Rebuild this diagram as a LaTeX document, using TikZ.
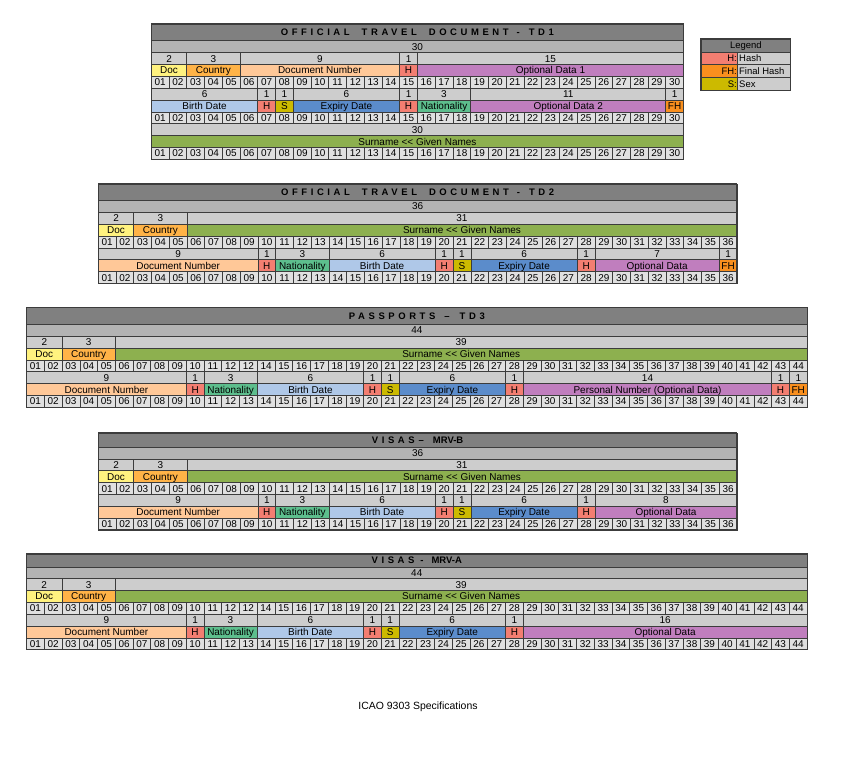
\documentclass[tikz,border=0pt]{standalone}
\usepackage{fontspec}
\setmainfont{Liberation Sans}
% field colours
\definecolor{titlegray}{HTML}{808080}
\definecolor{totalgray}{HTML}{B3B3B3}
\definecolor{countgray}{HTML}{CDCDCD}
\definecolor{numgray}{HTML}{E0E0E0}
\definecolor{gridline}{HTML}{3C3C3C}
\definecolor{doccol}{HTML}{FFF27F}
\definecolor{countrycol}{HTML}{FFB347}
\definecolor{docnumcol}{HTML}{FFC898}
\definecolor{hcol}{HTML}{F37E71}
\definecolor{optcol}{HTML}{C07EBE}
\definecolor{birthcol}{HTML}{AFC8E8}
\definecolor{scol}{HTML}{CCBA00}
\definecolor{expcol}{HTML}{5B8CCB}
\definecolor{natcol}{HTML}{5DBE8D}
\definecolor{fhcol}{HTML}{F98F1E}
\definecolor{namecol}{HTML}{8DB04F}
% geometry of one character cell
\def\mzcw{17.74}
\def\mzrh{11.85}
% current table: left, top, title height, number of columns
\newcommand\mrztable[4]{\def\mzx{#1}\def\mzy{#2}\def\mzh{#3}\def\mzn{#4}}
\newcommand\trk[1]{{\addfontfeature{LetterSpace=38}#1}}
\newcommand\mrztitle[2]{%
  \pgfmathsetmacro\xb{\mzx+\mzn*\mzcw}%
  \pgfmathsetmacro\yb{\mzy+\mzh}%
  \path[cellbox, fill=titlegray] (\mzx,\mzy) rectangle (\xb,\yb);
  \node[titletext] (#1) at ({(\mzx+\xb)/2},{(\mzy+\yb)/2}) {#2};}
% row, first column, last column, fill, text
\newcommand\mrzcell[5]{%
  \pgfmathsetmacro\xa{\mzx+(#2-1)*\mzcw}%
  \pgfmathsetmacro\xb{\mzx+#3*\mzcw}%
  \pgfmathsetmacro\ya{\mzy+\mzh+(#1-1)*\mzrh}%
  \pgfmathsetmacro\yb{\ya+\mzrh}%
  \path[cellbox, fill=#4] (\xa,\ya) rectangle (\xb,\yb);
  \node[celltext] at ({(\xa+\xb)/2},{(\ya+\yb)/2}) {#5};}
% row of character positions; second argument 1 repeats "12" at position 13
\newcommand\mrznums[2]{%
  \foreach \i in {1,...,\mzn}{%
    \pgfmathtruncatemacro\lab{((#2==1)&&(\i==13))?12:\i}%
    \mrzcell{#1}{\i}{\i}{numgray}{\ifnum\lab<10 0\fi\lab}}}
\newcommand\mrzframe[1]{%
  \pgfmathsetmacro\xb{\mzx+\mzn*\mzcw}%
  \pgfmathsetmacro\yb{\mzy+\mzh+#1*\mzrh}%
  \draw[frame] (\mzx,\mzy) rectangle (\xb,\yb);}
% second line of TD2 / TD3 / visas up to position 28
\newcommand\mrzlinetwo{%
  \mrzcell{5}{1}{9}{countgray}{9}
  \mrzcell{5}{10}{10}{countgray}{1}
  \mrzcell{5}{11}{13}{countgray}{3}
  \mrzcell{5}{14}{19}{countgray}{6}
  \mrzcell{5}{20}{20}{countgray}{1}
  \mrzcell{5}{21}{21}{countgray}{1}
  \mrzcell{5}{22}{27}{countgray}{6}
  \mrzcell{5}{28}{28}{countgray}{1}
  \mrzcell{6}{1}{9}{docnumcol}{Document Number}
  \mrzcell{6}{10}{10}{hcol}{H}
  \mrzcell{6}{11}{13}{natcol}{Nationality}
  \mrzcell{6}{14}{19}{birthcol}{Birth Date}
  \mrzcell{6}{20}{20}{hcol}{H}
  \mrzcell{6}{21}{21}{scol}{S}
  \mrzcell{6}{22}{27}{expcol}{Expiry Date}
  \mrzcell{6}{28}{28}{hcol}{H}}
% first line of TD2 / TD3 / visas
\newcommand\mrzlineone[2]{%
  \mrzcell{1}{1}{\mzn}{totalgray}{\mzn}
  \mrzcell{2}{1}{2}{countgray}{2}
  \mrzcell{2}{3}{5}{countgray}{3}
  \mrzcell{2}{6}{\mzn}{countgray}{#1}
  \mrzcell{3}{1}{2}{doccol}{Doc}
  \mrzcell{3}{3}{5}{countrycol}{Country}
  \mrzcell{3}{6}{\mzn}{namecol}{Surname <\kern0pt< Given Names}
  \mrznums{4}{#2}}
\begin{document}
\begin{tikzpicture}[x=1bp, y=-1bp,
  cellbox/.style={draw=gridline, line width=0.6bp},
  frame/.style={draw=gridline, line width=1.1bp},
  celltext/.style={font=\fontsize{10}{11}\selectfont, inner sep=0pt,
    text height=7.1bp, text depth=0bp},
  titletext/.style={font=\fontsize{9.5}{11}\selectfont\bfseries, inner sep=0pt,
    text height=6.8bp, text depth=0bp},
  legtext/.style={font=\fontsize{9.5}{11}\selectfont, inner sep=0pt,
    text height=6.8bp, text depth=0bp}]
\useasboundingbox[fill=white] (0,0) rectangle (842,770);

% ---------------- TD1 ----------------
\mrztable{151.3}{24}{16.8}{30}
\mrztitle{td1}{\trk{OFFICIAL}\hspace{12bp}\trk{TRAVEL}\hspace{12bp}\trk{DOCUMENT}\hspace{8bp}-\hspace{9bp}\trk{TD1}}
\mrzcell{1}{1}{30}{totalgray}{30}
\mrzcell{2}{1}{2}{countgray}{2}
\mrzcell{2}{3}{5}{countgray}{3}
\mrzcell{2}{6}{14}{countgray}{9}
\mrzcell{2}{15}{15}{countgray}{1}
\mrzcell{2}{16}{30}{countgray}{15}
\mrzcell{3}{1}{2}{doccol}{Doc}
\mrzcell{3}{3}{5}{countrycol}{Country}
\mrzcell{3}{6}{14}{docnumcol}{Document Number}
\mrzcell{3}{15}{15}{hcol}{H}
\mrzcell{3}{16}{30}{optcol}{Optional Data 1}
\mrznums{4}{0}
\mrzcell{5}{1}{6}{countgray}{6}
\mrzcell{5}{7}{7}{countgray}{1}
\mrzcell{5}{8}{8}{countgray}{1}
\mrzcell{5}{9}{14}{countgray}{6}
\mrzcell{5}{15}{15}{countgray}{1}
\mrzcell{5}{16}{18}{countgray}{3}
\mrzcell{5}{19}{29}{countgray}{11}
\mrzcell{5}{30}{30}{countgray}{1}
\mrzcell{6}{1}{6}{birthcol}{Birth Date}
\mrzcell{6}{7}{7}{hcol}{H}
\mrzcell{6}{8}{8}{scol}{S}
\mrzcell{6}{9}{14}{expcol}{Expiry Date}
\mrzcell{6}{15}{15}{hcol}{H}
\mrzcell{6}{16}{18}{natcol}{Nationality}
\mrzcell{6}{19}{29}{optcol}{Optional Data 2}
\mrzcell{6}{30}{30}{fhcol}{FH}
\mrznums{7}{0}
\mrzcell{8}{1}{30}{countgray}{30}
\mrzcell{9}{1}{30}{namecol}{Surname <\kern0pt< Given Names}
\mrznums{10}{0}
\mrzframe{10}

% ---------------- Legend ----------------
\path[cellbox, fill=titlegray] (701,39) rectangle (790.7,52);
\node[legtext] (legend) at (745.8,45.5) {Legend};
\path[cellbox, fill=hcol] (701,52) rectangle (737.7,64.8);
\path[cellbox, fill=countgray] (737.7,52) rectangle (790.7,64.8);
\path[cellbox, fill=fhcol] (701,64.8) rectangle (737.7,77.6);
\path[cellbox, fill=countgray] (737.7,64.8) rectangle (790.7,77.6);
\path[cellbox, fill=scol] (701,77.6) rectangle (737.7,90.4);
\path[cellbox, fill=countgray] (737.7,77.6) rectangle (790.7,90.4);
\node[legtext, anchor=east] (legh) at (737,58.4) {H:};
\node[legtext, anchor=west] (leghash) at (739,58.4) {Hash};
\node[legtext, anchor=east] (legfh) at (737,71.2) {FH:};
\node[legtext, anchor=west] (legfinal) at (739,71.2) {Final Hash};
\node[legtext, anchor=east] (legs) at (737,84) {S:};
\node[legtext, anchor=west] (legsex) at (739,84) {Sex};
\draw[frame] (701,39) rectangle (790.7,90.4);

% ---------------- TD2 ----------------
\mrztable{98.3}{184}{16.5}{36}
\mrztitle{td2}{\trk{OFFICIAL}\hspace{12bp}\trk{TRAVEL}\hspace{12bp}\trk{DOCUMENT}\hspace{8bp}-\hspace{9bp}\trk{TD2}}
\mrzlineone{31}{0}
\mrzlinetwo
\mrzcell{5}{29}{35}{countgray}{7}
\mrzcell{5}{36}{36}{countgray}{1}
\mrzcell{6}{29}{35}{optcol}{Optional Data}
\mrzcell{6}{36}{36}{fhcol}{FH}
\mrznums{7}{0}
\mrzframe{7}

% ---------------- TD3 ----------------
\mrztable{26.6}{307.7}{16.6}{44}
\mrztitle{td3}{\trk{PASSPORTS}\hspace{9bp}–\hspace{10bp}\trk{TD3}}
\mrzlineone{39}{1}
\mrzlinetwo
\mrzcell{5}{29}{42}{countgray}{14}
\mrzcell{5}{43}{43}{countgray}{1}
\mrzcell{5}{44}{44}{countgray}{1}
\mrzcell{6}{29}{42}{optcol}{Personal Number (Optional Data)}
\mrzcell{6}{43}{43}{hcol}{H}
\mrzcell{6}{44}{44}{fhcol}{FH}
\mrznums{7}{0}
\mrzframe{7}

% ---------------- MRV-B ----------------
\mrztable{98.3}{433}{14}{36}
\mrztitle{mrvb}{\trk{VISAS}\hspace{4bp}–\hspace{9bp}MRV-B}
\mrzlineone{31}{0}
\mrzlinetwo
\mrzcell{5}{29}{36}{countgray}{8}
\mrzcell{6}{29}{36}{optcol}{Optional Data}
\mrznums{7}{0}
\mrzframe{7}

% ---------------- MRV-A ----------------
\mrztable{26.5}{554}{12.8}{44}
\mrztitle{mrva}{\trk{VISAS}\hspace{6bp}-\hspace{8bp}MRV-A}
\mrzlineone{39}{1}
\mrzlinetwo
\mrzcell{5}{29}{44}{countgray}{16}
\mrzcell{6}{29}{44}{optcol}{Optional Data}
\mrznums{7}{0}
\mrzframe{7}

\node[font=\fontsize{10.5}{12}\selectfont, inner sep=0pt] (caption) at (418,707) {ICAO 9303 Specifications};
\end{tikzpicture}
\end{document}
